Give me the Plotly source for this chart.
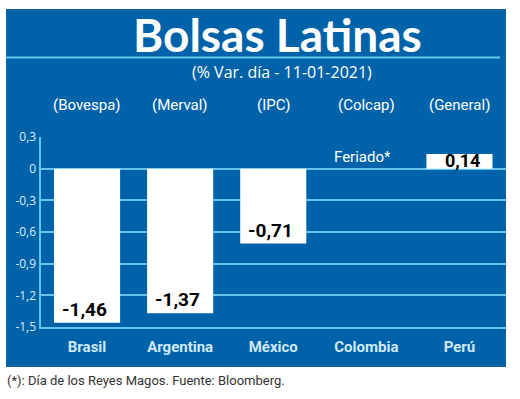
import plotly.graph_objects as go

countries = ["Brasil", "Argentina", "México", "Colombia", "Perú"]
indices = ["(Bovespa)", "(Merval)", "(IPC)", "(Colcap)", "(General)"]
values = [-1.46, -1.37, -0.71, None, 0.14]
value_labels = ["-1,46", "-1,37", "-0,71", "", "0,14"]
tick_vals = [0.3, 0, -0.3, -0.6, -0.9, -1.2, -1.5]
tick_text = ["0,3", "0", "-0,3", "-0,6", "-0,9", "-1,2", "-1,5"]
holiday_label = "Feriado*"

W, H = 520, 399
BLUE = "#0062a9"
GRID = "#66c3ee"
COND = "Roboto, Liberation Sans, sans-serif"

def px(x):
    return x / W

def py(y):
    return 1 - y / H

fig = go.Figure()
fig.add_trace(go.Bar(
    x=countries, y=values, width=0.71,
    marker=dict(color="white", line=dict(width=0)),
    hoverinfo="skip",
))

annotations = []
for c, v, lab in zip(countries, values, value_labels):
    if v is None or lab == "":
        continue
    if v < 0:
        annotations.append(dict(x=c, y=v, xref="x", yref="y", text=lab, showarrow=False,
                                yanchor="bottom", yshift=0, xshift=-3,
                                font=dict(family=COND, size=19, color="black", weight="bold")))
    else:
        annotations.append(dict(x=c, y=0, xref="x", yref="y", text=lab, showarrow=False,
                                yanchor="bottom", yshift=-4, xshift=3,
                                font=dict(family=COND, size=18, color="black", weight="bold")))

for c, v in zip(countries, values):
    if v is None:
        annotations.append(dict(x=c, y=0, xref="x", yref="y", text=holiday_label, showarrow=False,
                                yanchor="bottom", yshift=1, xshift=-4,
                                font=dict(family=COND, size=15, color="white")))

for c, name in zip(countries, indices):
    annotations.append(dict(x=c, y=py(105), xref="x", yref="paper", text=name, showarrow=False,
                            yanchor="middle",
                            font=dict(family=COND, size=15, color="white")))

annotations.append(dict(x=px(277), y=py(34), xref="paper", yref="paper", text="<b>Bolsas Latinas</b>",
                        showarrow=False, xanchor="center", yanchor="middle",
                        font=dict(family="Lato, Open Sans, sans-serif", size=46, color="white")))
annotations.append(dict(x=px(282), y=py(72), xref="paper", yref="paper", text="(% Var. día - 11-01-2021)",
                        showarrow=False, xanchor="center", yanchor="middle",
                        font=dict(family="Open Sans, sans-serif", size=16, color="white")))
annotations.append(dict(x=px(5), y=py(380), xref="paper", yref="paper",
                        text="(*): Día de los Reyes Magos. Fuente: Bloomberg.",
                        showarrow=False, xanchor="left", yanchor="middle",
                        font=dict(family=COND, size=13, color="#333333")))

shapes = [
    dict(type="rect", xref="paper", yref="paper", x0=px(6), x1=px(506), y0=py(367), y1=py(9),
         fillcolor=BLUE, line=dict(width=0), layer="below"),
    dict(type="line", xref="paper", yref="paper", x0=px(6), x1=px(500), y0=py(57.5), y1=py(57.5),
         line=dict(color=GRID, width=2), layer="below"),
]

fig.update_layout(
    width=W, height=H,
    margin=dict(l=0, r=0, t=0, b=0),
    paper_bgcolor="white", plot_bgcolor="rgba(0,0,0,0)",
    showlegend=False, bargap=0.29,
    annotations=annotations, shapes=shapes,
    xaxis=dict(domain=[px(40.5), px(506)], range=[-0.5, 4.5], type="category",
               showgrid=False, zeroline=False, showline=True, linecolor=GRID, linewidth=2,
               ticks="", ticklabelstandoff=5, automargin=False,
               tickfont=dict(family=COND, size=15, color="#cfe9f8", weight="bold"), fixedrange=True),
    yaxis=dict(domain=[py(327), py(137)], range=[-1.5, 0.3], automargin=False,
               tickvals=tick_vals, ticktext=tick_text, showgrid=True, gridcolor=GRID, gridwidth=2,
               zeroline=False, showline=True, linecolor=GRID, linewidth=2, ticks="",
               tickfont=dict(family="Open Sans, sans-serif", size=12, color="#dceefa"), fixedrange=True),
)

fig.write_html("out.html", config={"displayModeBar": False},
               post_script="document.body.style.margin='0';document.body.style.padding='0';")
